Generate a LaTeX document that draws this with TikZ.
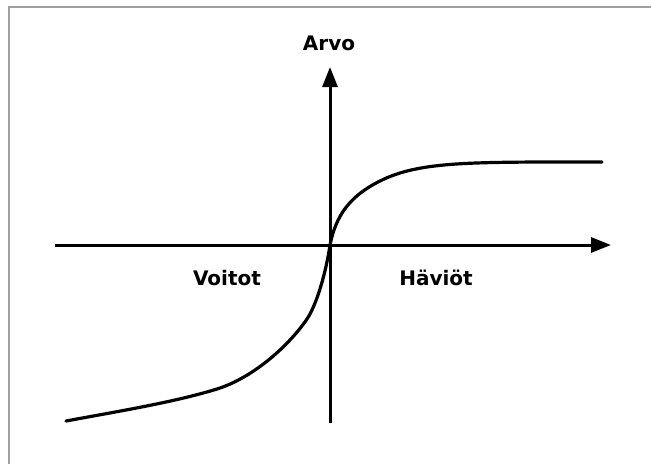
\documentclass[tikz,border=0pt]{standalone}
\usepackage{fontspec}
\setmainfont{DejaVu Sans}
\usetikzlibrary{arrows.meta}
\begin{document}
\begin{tikzpicture}[x=1pt,y=-1pt,
  axis/.style={line width=3pt,-{Triangle[length=20pt,width=15pt]}},
  lbl/.style={font=\fontsize{20}{24}\selectfont\bfseries, inner sep=0pt, anchor=base},
  curve/.style={line width=3.2pt, line cap=round, line join=round},
  frameline/.style={draw=gray!75, line width=2pt}]
\useasboundingbox (0,0) rectangle (651,464);
\draw[frameline] (9,464) -- (9,6.5) -- (651,6.5);
\coordinate (ybot) at (330,423);
\coordinate (ytop) at (330,67);
\coordinate (xl) at (55,245);
\coordinate (xr) at (611,245);
\coordinate (c0) at (66,421);
\coordinate (ca) at (217,389);
\coordinate (c1) at (307,319);
\coordinate (o) at (330,245);
\coordinate (c2) at (380,181);
\coordinate (c3) at (602,162);
\draw[axis] (ybot) -- (ytop);
\draw[axis] (xl) -- (xr);
\node[lbl] (arvo) at (329,50) {Arvo};
\node[lbl] (voitot) at (227,285) {Voitot};
\node[lbl] (haviot) at (436,285) {Häviöt};
\draw[curve] (c0) .. controls (120,411) and (175,402) .. (ca)
  .. controls (255,377) and (290,344) .. (c1)
  .. controls (317,304) and (326,272) .. (o)
  .. controls (336,215) and (350,196) .. (c2)
  .. controls (420,161) and (470,162) .. (c3);
\end{tikzpicture}
\end{document}
